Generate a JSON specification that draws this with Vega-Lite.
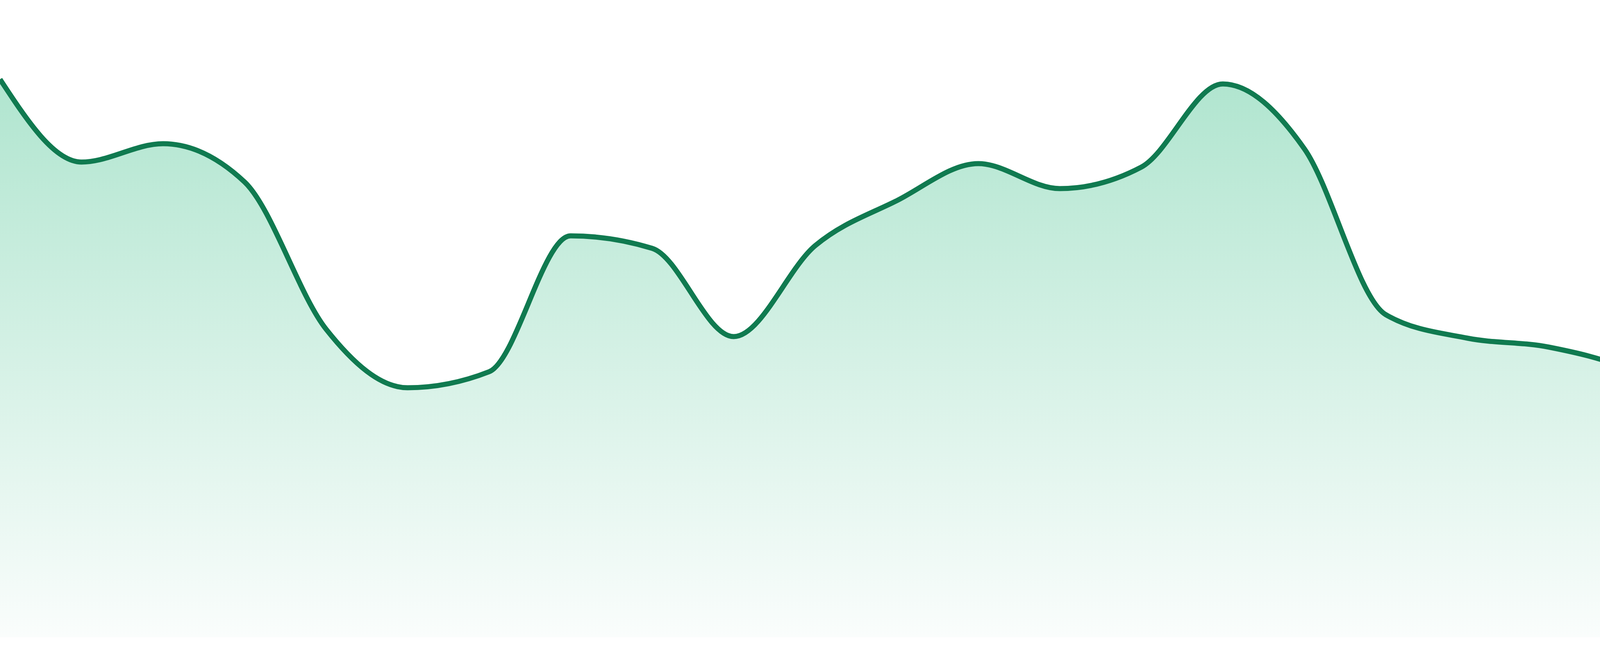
{
  "$schema": "https://vega.github.io/schema/vega-lite/v6.json",
  "width": 4800,
  "height": 1632,
  "autosize": {"type": "none"},
  "padding": {"left": 0, "right": 0, "top": 0, "bottom": 48},
  "background": "white",
  "config": {"view": {"stroke": null}},
  "data": {
    "values": [
      {"t": 0, "value": 1429},
      {"t": 1, "value": 1217},
      {"t": 2, "value": 1264},
      {"t": 3, "value": 1166},
      {"t": 4, "value": 789},
      {"t": 5, "value": 639},
      {"t": 6, "value": 680},
      {"t": 7, "value": 1028},
      {"t": 8, "value": 996},
      {"t": 9, "value": 770},
      {"t": 10, "value": 1003},
      {"t": 11, "value": 1118},
      {"t": 12, "value": 1213},
      {"t": 13, "value": 1149},
      {"t": 14, "value": 1204},
      {"t": 15, "value": 1417},
      {"t": 16, "value": 1251},
      {"t": 17, "value": 826},
      {"t": 18, "value": 766},
      {"t": 19, "value": 743},
      {"t": 20, "value": 683},
      {"t": 21, "value": 555},
      {"t": 22, "value": 558},
      {"t": 23, "value": 462}
    ]
  },
  "encoding": {
    "x": {"field": "t", "type": "quantitative", "axis": null, "scale": {"domain": [0, 23], "nice": false, "zero": false}},
    "y": {"field": "value", "type": "quantitative", "axis": null, "scale": {"domain": [0, 1632], "nice": false}}
  },
  "layer": [
    {
      "mark": {
        "type": "area",
        "interpolate": "monotone",
        "color": {
          "gradient": "linear",
          "x1": 0, "y1": 0, "x2": 0, "y2": 1,
          "stops": [
            {"offset": 0, "color": "#b0e5cf"},
            {"offset": 1, "color": "#fafdfc"}
          ]
        }
      }
    },
    {
      "mark": {"type": "line", "interpolate": "monotone", "color": "#107a50", "strokeWidth": 13}
    }
  ]
}
